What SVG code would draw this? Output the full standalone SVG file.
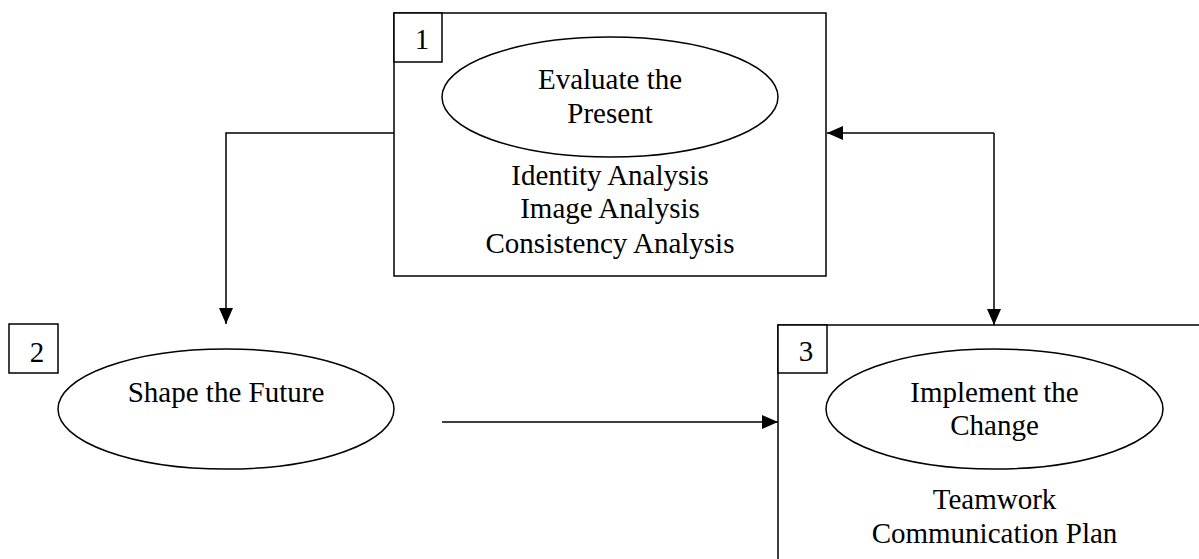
<svg xmlns="http://www.w3.org/2000/svg" width="1199" height="559" viewBox="0 0 1199 559">
<defs>
<style>
.b{fill:#fff;stroke:#000;stroke-width:1.5}
.e{fill:none;stroke:#000;stroke-width:1.5}
.c{fill:none;stroke:#000;stroke-width:1.5}
text{font-family:"Liberation Serif","Times New Roman",serif;font-size:29px;fill:#000;text-anchor:middle}
</style>
<marker id="ah" viewBox="0 0 16 14" refX="16" refY="7" markerWidth="16" markerHeight="14" markerUnits="userSpaceOnUse" orient="auto">
<path d="M0,0 L16,7 L0,14 Z" fill="#000"/>
</marker>
</defs>
<rect width="1199" height="559" fill="#fff"/>
<g id="node1">
<rect class="b" x="394" y="13" width="432" height="263"/>
<rect class="b" x="394" y="13" width="48" height="49"/>
<text x="422" y="49">1</text>
<ellipse class="e" cx="610" cy="97" rx="168" ry="60"/>
<text x="610" y="89">Evaluate the</text>
<text x="610" y="123">Present</text>
<text x="610" y="185">Identity Analysis</text>
<text x="610" y="218">Image Analysis</text>
<text x="610" y="253">Consistency Analysis</text>
</g>
<g id="node2">
<rect class="b" x="9" y="324" width="49" height="49"/>
<text x="37" y="362">2</text>
<ellipse class="e" cx="226" cy="409" rx="168" ry="60"/>
<text x="226" y="402">Shape the Future</text>
</g>
<g id="node3">
<rect class="b" x="778" y="325" width="440" height="260"/>
<rect class="b" x="778" y="325" width="49" height="48"/>
<text x="806" y="361">3</text>
<ellipse class="e" cx="994.5" cy="409" rx="168.5" ry="60"/>
<text x="994.5" y="402">Implement the</text>
<text x="994.5" y="435">Change</text>
<text x="994.5" y="509">Teamwork</text>
<text x="994.5" y="543">Communication Plan</text>
</g>
<g id="connectors">
<path class="c" d="M394,133 H226 V324" marker-end="url(#ah)"/>
<path class="c" d="M442,422 H778" marker-end="url(#ah)"/>
<path class="c" d="M994,133 H827" marker-end="url(#ah)"/>
<path class="c" d="M994,133 V325" marker-end="url(#ah)"/>
</g>
</svg>
